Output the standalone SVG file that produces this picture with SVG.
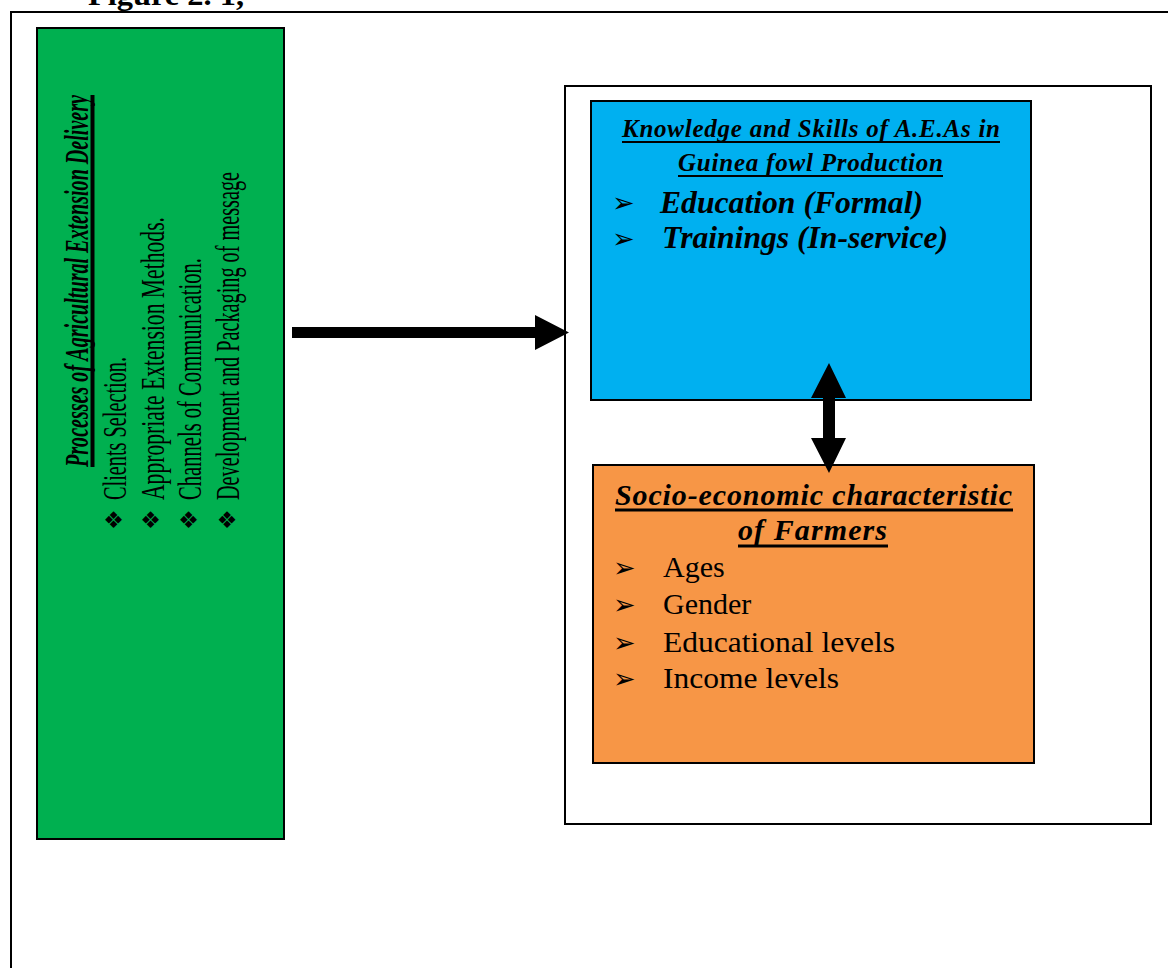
<svg xmlns="http://www.w3.org/2000/svg" width="1168" height="968" viewBox="0 0 1168 968">
<style>
.serif{font-family:"Liberation Serif","Times New Roman",serif;fill:#000}
.bi{font-weight:bold;font-style:italic}
.sym{font-family:"DejaVu Sans",sans-serif;fill:#000}
.box{stroke:#000;stroke-width:2}
.ul{stroke:#000}
</style>
<rect width="1168" height="968" fill="#fff"/>
<g id="caption">
<text class="serif" x="88" y="5" font-size="30" font-weight="bold" textLength="156" lengthAdjust="spacingAndGlyphs">Figure 2. 1,</text>
</g>
<g id="frame">
<path d="M11,968 V12 H1168" fill="none" stroke="#000" stroke-width="2"/>
</g>
<g id="processes">
<rect class="box" x="37" y="28" width="247" height="811" fill="#00B050"/>
<g transform="translate(88,467) rotate(-90) scale(1,1.65)">
<text class="serif bi" x="0" y="0" font-size="20" textLength="372" lengthAdjust="spacingAndGlyphs">Processes of Agricultural Extension Delivery</text>
</g>
<line class="ul" x1="92.5" y1="95" x2="92.5" y2="467" stroke-width="4"/>
<g transform="translate(126,500) rotate(-90) scale(1,1.65)">
<text class="serif" x="0" y="0" font-size="20" textLength="143" lengthAdjust="spacingAndGlyphs">Clients Selection.</text>
</g>
<g transform="translate(164,500) rotate(-90) scale(1,1.65)">
<text class="serif" x="0" y="0" font-size="20" textLength="283" lengthAdjust="spacingAndGlyphs">Appropriate Extension Methods.</text>
</g>
<g transform="translate(201,500) rotate(-90) scale(1,1.65)">
<text class="serif" x="0" y="0" font-size="20" textLength="242" lengthAdjust="spacingAndGlyphs">Channels of Communication.</text>
</g>
<g transform="translate(239,500) rotate(-90) scale(1,1.65)">
<text class="serif" x="0" y="0" font-size="20" textLength="328" lengthAdjust="spacingAndGlyphs">Development and Packaging of message</text>
</g>
<text class="sym" x="113.5" y="528" font-size="23" text-anchor="middle">❖</text>
<text class="sym" x="150.5" y="528" font-size="23" text-anchor="middle">❖</text>
<text class="sym" x="188.5" y="528" font-size="23" text-anchor="middle">❖</text>
<text class="sym" x="227" y="528" font-size="23" text-anchor="middle">❖</text>
</g>
<g id="container">
<rect x="565" y="86" width="586" height="738" fill="#fff" stroke="#000" stroke-width="2"/>
</g>
<g id="knowledge">
<rect class="box" x="591" y="101" width="440" height="299" fill="#00B0F0"/>
<text class="serif bi" x="811" y="137" font-size="25" text-anchor="middle" textLength="378" lengthAdjust="spacing">Knowledge and Skills of A.E.As in</text>
<line class="ul" x1="622" y1="142" x2="1000" y2="142" stroke-width="2"/>
<text class="serif bi" x="810.5" y="171" font-size="25" text-anchor="middle" textLength="265" lengthAdjust="spacing">Guinea fowl Production</text>
<line class="ul" x1="678" y1="176" x2="943" y2="176" stroke-width="2"/>
<text class="sym" x="612" y="212" font-size="27">➢</text>
<text class="serif bi" x="660" y="213" font-size="31.5" textLength="263" lengthAdjust="spacingAndGlyphs">Education (Formal)</text>
<text class="sym" x="612" y="248" font-size="27">➢</text>
<text class="serif bi" x="662" y="248" font-size="31.5" textLength="286" lengthAdjust="spacingAndGlyphs">Trainings (In-service)</text>
</g>
<g id="socio">
<rect class="box" x="593" y="465" width="441" height="298" fill="#F79646"/>
<text class="serif bi" x="813.5" y="505" font-size="30" text-anchor="middle" textLength="397" lengthAdjust="spacing">Socio-economic characteristic</text>
<line class="ul" x1="615" y1="510" x2="1013" y2="510" stroke-width="3"/>
<text class="serif bi" x="812.5" y="540" font-size="30" text-anchor="middle" textLength="149" lengthAdjust="spacing">of Farmers</text>
<line class="ul" x1="738" y1="546" x2="888" y2="546" stroke-width="3"/>
<text class="sym" x="613" y="577" font-size="27">➢</text>
<text class="serif" x="663" y="577" font-size="30">Ages</text>
<text class="sym" x="613" y="614" font-size="27">➢</text>
<text class="serif" x="663" y="614" font-size="30">Gender</text>
<text class="sym" x="613" y="652" font-size="27">➢</text>
<text class="serif" x="663" y="652" font-size="30" textLength="232" lengthAdjust="spacingAndGlyphs">Educational levels</text>
<text class="sym" x="613" y="688" font-size="27">➢</text>
<text class="serif" x="663" y="688" font-size="30" textLength="176" lengthAdjust="spacingAndGlyphs">Income levels</text>
</g>
<g id="connectors">
<polygon points="292,327 535,327 535,315 569,332.5 535,350 535,338 292,338" fill="#000"/>
<polygon points="829,363 846,398 835,398 835,438 846,438 829,473 811,438 823,438 823,398 811,398" fill="#000"/>
</g>
</svg>
